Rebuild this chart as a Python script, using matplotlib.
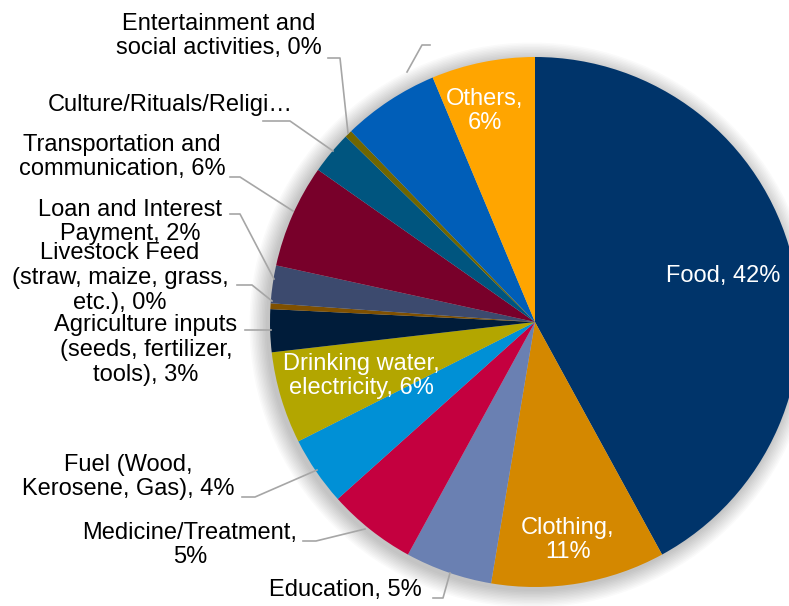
import matplotlib
matplotlib.use("Agg")
import matplotlib.pyplot as plt
from matplotlib.patches import Circle

plt.rcParams['font.family'] = ['Liberation Sans', 'DejaVu Sans']

# household expenditure shares, clockwise from 12 o'clock
categories = ["Food", "Clothing", "Education", "Medicine/Treatment",
              "Fuel (Wood, Kerosene, Gas)", "Drinking water, electricity",
              "Agriculture inputs (seeds, fertilizer, tools)",
              "Livestock Feed (straw, maize, grass, etc.)",
              "Loan and Interest Payment", "Transportation and communication",
              "Culture/Rituals/Religion", "Entertainment and social activities",
              "Alcohol/Cigarette", "Others"]
shares = [42.0, 10.6, 5.3, 5.4, 4.2, 5.6, 2.6, 0.35, 2.3, 6.3, 2.6, 0.45, 5.9, 6.3]
colors = ["#00346A", "#D48800", "#6A80B2", "#C4003F", "#0090D6", "#B3A600",
          "#001C3A", "#7F5000", "#3C4A6E", "#78002A", "#00557F", "#706600",
          "#005EB8", "#FFA500"]

label_text = ["Food, 42%", "Clothing,\n11%", "Education, 5%",
              "Medicine/Treatment,\n5%", "Fuel (Wood,\nKerosene, Gas), 4%",
              "Drinking water,\nelectricity, 6%",
              "Agriculture inputs\n(seeds, fertilizer,\ntools), 3%",
              "Livestock Feed\n(straw, maize, grass,\netc.), 0%",
              "Loan and Interest\nPayment, 2%", "Transportation and\ncommunication, 6%",
              "Culture/Rituals/Religi\u2026", "Entertainment and\nsocial activities, 0%",
              "Alcohol/Cigarette,\n6%", "Others,\n6%"]

W, H = 789, 606
fig = plt.figure(figsize=(W / 100, H / 100), dpi=100)
ax = fig.add_axes([0, 0, 1, 1])

cx, cy, r = 535, H - 322, 265

# soft shadow
for i in range(12):
    ax.add_patch(Circle((cx - 3, cy - 3), r + 1 + i * 1.5, color="black",
                        alpha=0.02, lw=0, zorder=0))

ax.pie(shares, colors=colors, startangle=90, counterclock=False,
       center=(cx, cy), radius=r, frame=True,
       wedgeprops=dict(linewidth=0))
ax.set_xlim(0, W)
ax.set_ylim(0, H)
ax.set_aspect("equal")
ax.axis("off")

fs = 17
# label placement in pixel coords (x, y from top), colour, leader path
layout = {
    0: ((723, 276), "white", None),
    1: ((568, 540), "white", None),
    2: ((345, 590), "black", [(433, 598), (443, 598), (450, 573)]),
    3: ((190, 545), "black", [(303, 541), (316, 541), (365, 529)]),
    4: ((128, 477), "black", [(242, 497), (255, 497), (317, 470)]),
    5: ((361, 376), "white", None),
    6: ((146, 350), "black", [(245, 330), (271, 330)]),
    7: ((120, 278), "black", [(237, 285), (252, 285), (272, 301)]),
    8: ((130, 222), "black", [(230, 214), (240, 214), (274, 279)]),
    9: ((122, 157), "black", [(230, 177), (240, 177), (293, 211)]),
    10: ((170, 105), "black", [(263, 121), (290, 121), (333, 151)]),
    11: ((219, 36), "black", [(328, 58), (340, 58), (348, 133)]),
    12: ((470, 25), "white", [(430, 45), (422, 45), (407, 72)]),
    13: ((485, 111), "white", None),
}

for i, ((px, py), col, path) in layout.items():
    ax.text(px, H - py, label_text[i], color=col, fontsize=fs, ha="center",
            va="center", multialignment="center", linespacing=1.17, zorder=5)
    if path:
        xs = [p[0] for p in path]
        ys = [H - p[1] for p in path]
        ax.plot(xs, ys, color="#A6A6A6", lw=1.2, zorder=4)

fig.savefig("out.png", dpi=100, facecolor="white")
